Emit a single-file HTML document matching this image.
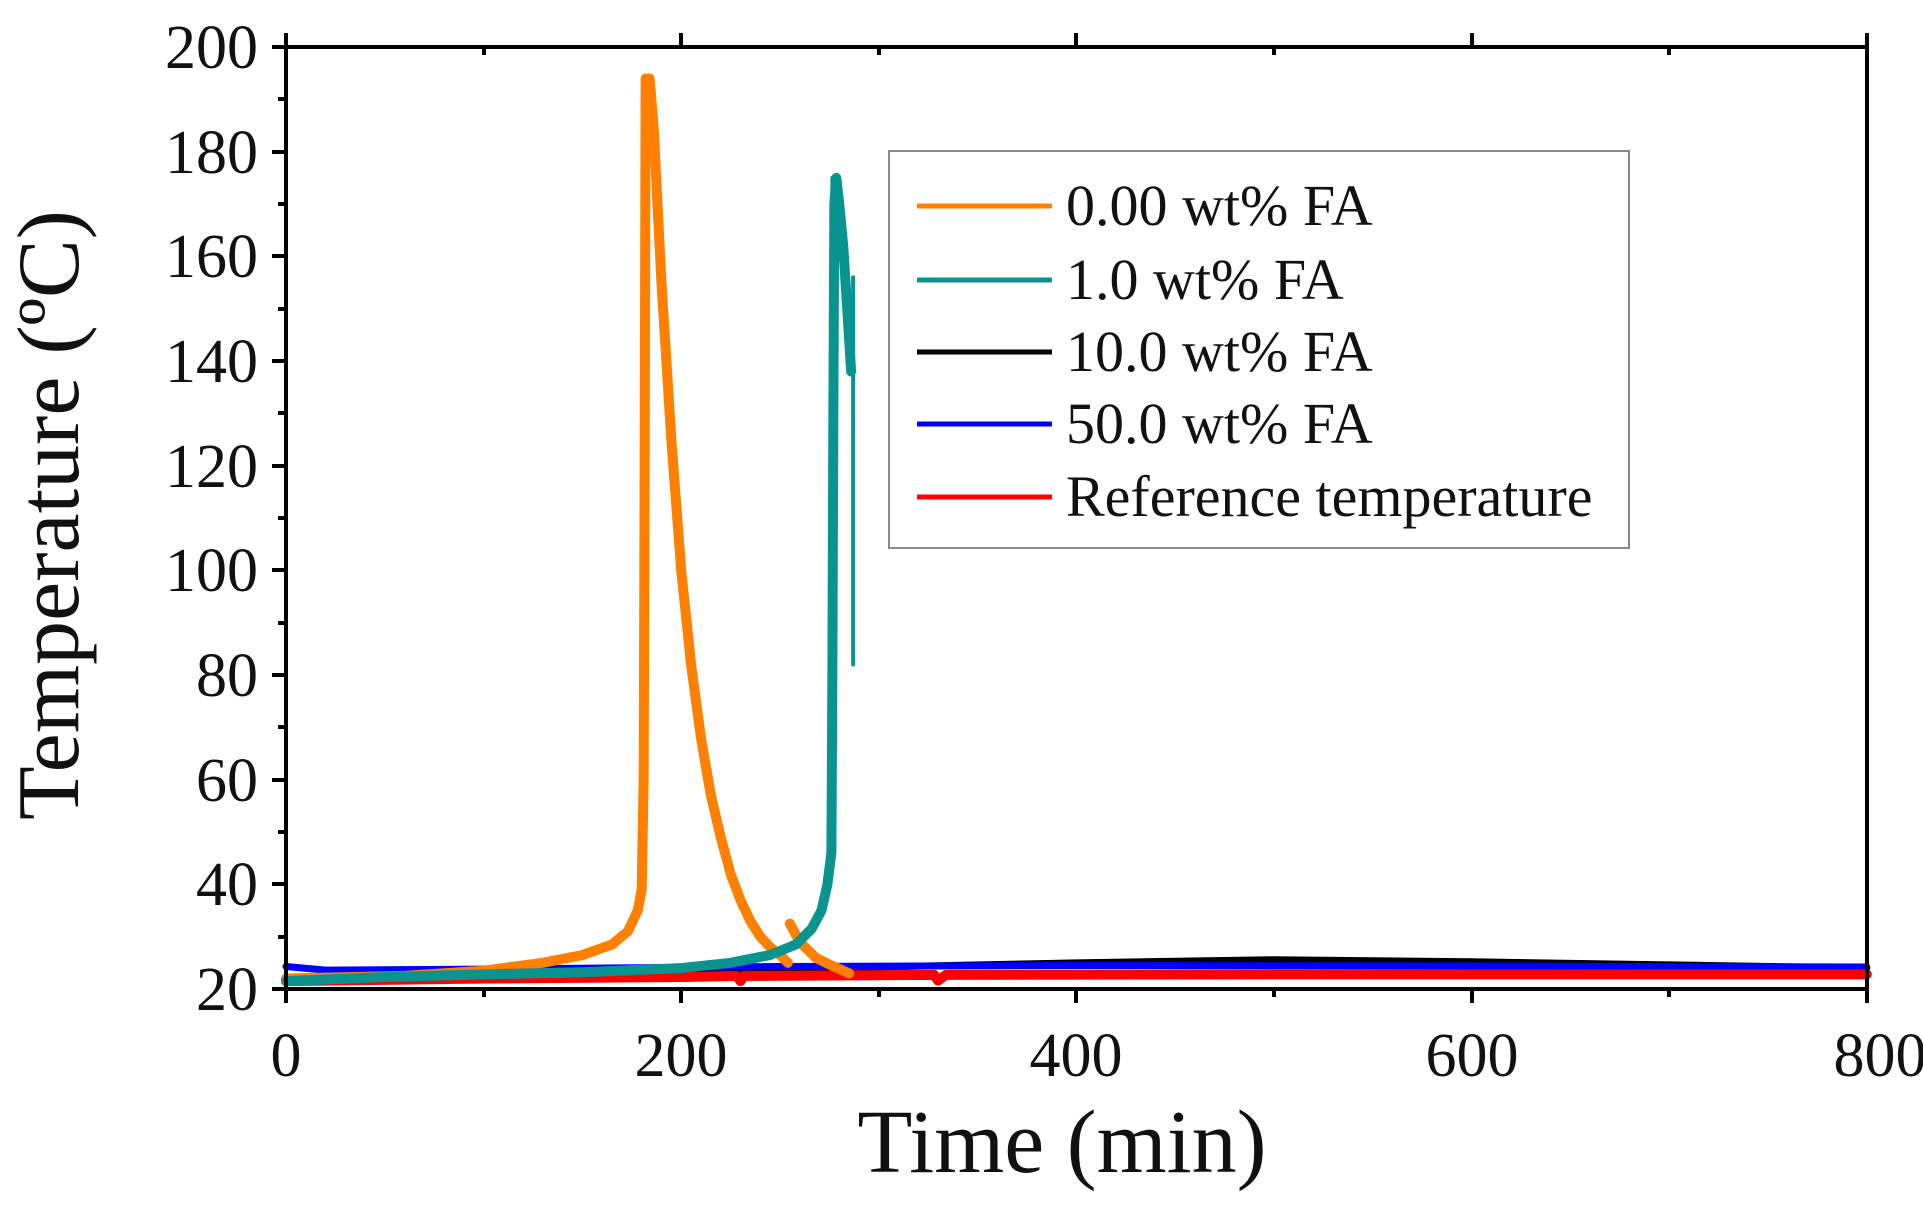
<!DOCTYPE html>
<html><head><meta charset="utf-8"><style>
html,body{margin:0;padding:0;background:#fff;}
svg{display:block;}
text{font-family:"Liberation Serif",serif;fill:#111;}
</style></head><body>
<svg width="1923" height="1207" viewBox="0 0 1923 1207" xmlns="http://www.w3.org/2000/svg">
<g transform="translate(286,989) scale(1.976,-5.233) translate(0,-20)" fill="none" stroke-linejoin="round" stroke-linecap="round">
  <path vector-effect="non-scaling-stroke" stroke="#000" stroke-width="7" d="M0,22 L100,23 L200,23.6 L300,24.2 L400,25 L500,25.6 L600,25.2 L700,24.6 L800,24"/>
  <path vector-effect="non-scaling-stroke" stroke="#0000ff" stroke-width="7" d="M0,24.3 L20,23.6 L100,23.8 L250,24.3 L400,24.5 L600,24.4 L800,24.2"/>
  <path vector-effect="non-scaling-stroke" stroke="#ff0000" stroke-width="10" d="M0,21.5 L100,22 L200,22.3 L228,22.5 L230,21.5 L232,22.5 L328,22.7 L330,21.6 L334,22.7 L500,22.8 L800,22.8"/>
  <path vector-effect="non-scaling-stroke" stroke="#ff8000" stroke-width="10" d="M0,22 L60,22.5 L100,23.5 L130,25 L150,26.5 L165,28.5 L173,31 L178,35 L180,39 L181,60 L181.5,120 L182,194 L184,194 L186,185 L190,155 L195,125 L200,100 L205,82 L210,68 L215,57 L220,49 L225,42 L230,37 L235,33 L240,30 L245,28 L250,26.5 L254,25 M255,32.5 L260,29 L268,26 L276,24.5 L285,23"/>
  <path vector-effect="non-scaling-stroke" stroke="#0a9490" stroke-width="10" d="M0,21.5 L50,22.3 L100,22.8 L150,23.2 L200,24 L225,25 L245,26.5 L258,28.5 L266,31.5 L271,35 L274,40 L276,46 L276.5,80 L277,130 L277.5,170 L278.5,175 L280,170 L282,162 L284,150 L286,138"/>
  <path vector-effect="non-scaling-stroke" stroke="#0a9490" stroke-width="4" d="M276,45 L276.5,175 M287,156 L287,82"/>
</g>
<g stroke="#000" stroke-width="4" fill="none">
  <rect x="286" y="47" width="1581" height="942"/>
</g>
<g stroke="#000" stroke-width="4">
  <line x1="286" y1="989" x2="286" y2="1003"/><line x1="681" y1="989" x2="681" y2="1003"/><line x1="1076" y1="989" x2="1076" y2="1003"/><line x1="1472" y1="989" x2="1472" y2="1003"/><line x1="1867" y1="989" x2="1867" y2="1003"/>
  <line x1="484" y1="989" x2="484" y2="997"/><line x1="879" y1="989" x2="879" y2="997"/><line x1="1274" y1="989" x2="1274" y2="997"/><line x1="1669" y1="989" x2="1669" y2="997"/>
  <line x1="286" y1="47" x2="286" y2="33"/><line x1="681" y1="47" x2="681" y2="33"/><line x1="1076" y1="47" x2="1076" y2="33"/><line x1="1472" y1="47" x2="1472" y2="33"/><line x1="1867" y1="47" x2="1867" y2="33"/>
  <line x1="484" y1="47" x2="484" y2="55"/><line x1="879" y1="47" x2="879" y2="55"/><line x1="1274" y1="47" x2="1274" y2="55"/><line x1="1669" y1="47" x2="1669" y2="55"/>
</g>
<g stroke="#000" stroke-width="4">
  <line x1="272" y1="989" x2="286" y2="989"/><line x1="272" y1="884" x2="286" y2="884"/><line x1="272" y1="780" x2="286" y2="780"/><line x1="272" y1="675" x2="286" y2="675"/><line x1="272" y1="570" x2="286" y2="570"/><line x1="272" y1="466" x2="286" y2="466"/><line x1="272" y1="361" x2="286" y2="361"/><line x1="272" y1="256" x2="286" y2="256"/><line x1="272" y1="152" x2="286" y2="152"/><line x1="272" y1="47" x2="286" y2="47"/>
  <line x1="278" y1="937" x2="286" y2="937"/><line x1="278" y1="832" x2="286" y2="832"/><line x1="278" y1="727" x2="286" y2="727"/><line x1="278" y1="623" x2="286" y2="623"/><line x1="278" y1="518" x2="286" y2="518"/><line x1="278" y1="413" x2="286" y2="413"/><line x1="278" y1="309" x2="286" y2="309"/><line x1="278" y1="204" x2="286" y2="204"/><line x1="278" y1="99" x2="286" y2="99"/>
</g>
<g font-size="62" text-anchor="end">
  <text x="258" y="1010">20</text><text x="258" y="905">40</text><text x="258" y="801">60</text><text x="258" y="696">80</text><text x="258" y="591">100</text><text x="258" y="487">120</text><text x="258" y="382">140</text><text x="258" y="277">160</text><text x="258" y="173">180</text><text x="258" y="68">200</text>
</g>
<g font-size="62" text-anchor="middle">
  <text x="286" y="1076">0</text><text x="681" y="1076">200</text><text x="1076" y="1076">400</text><text x="1472" y="1076">600</text><text x="1880" y="1076">800</text>
</g>
<text x="1062" y="1172" font-size="90" text-anchor="middle">Time (min)</text>
<text transform="translate(78,515) rotate(-90)" font-size="88" text-anchor="middle">Temperature (ºC)</text>
<rect x="889" y="151" width="740" height="397" fill="#fff" stroke="#888" stroke-width="2"/>
<g stroke-width="5">
  <line x1="917" y1="206" x2="1052" y2="206" stroke="#ff8000"/>
  <line x1="917" y1="280" x2="1052" y2="280" stroke="#0a9490"/>
  <line x1="917" y1="352" x2="1052" y2="352" stroke="#000"/>
  <line x1="917" y1="424" x2="1052" y2="424" stroke="#0000ff"/>
  <line x1="917" y1="497" x2="1052" y2="497" stroke="#ff0000"/>
</g>
<g font-size="58">
  <text x="1066" y="225">0.00 wt% FA</text>
  <text x="1066" y="299">1.0 wt% FA</text>
  <text x="1066" y="371">10.0 wt% FA</text>
  <text x="1066" y="443">50.0 wt% FA</text>
  <text x="1066" y="516">Reference temperature</text>
</g>
</svg>
</body></html>
